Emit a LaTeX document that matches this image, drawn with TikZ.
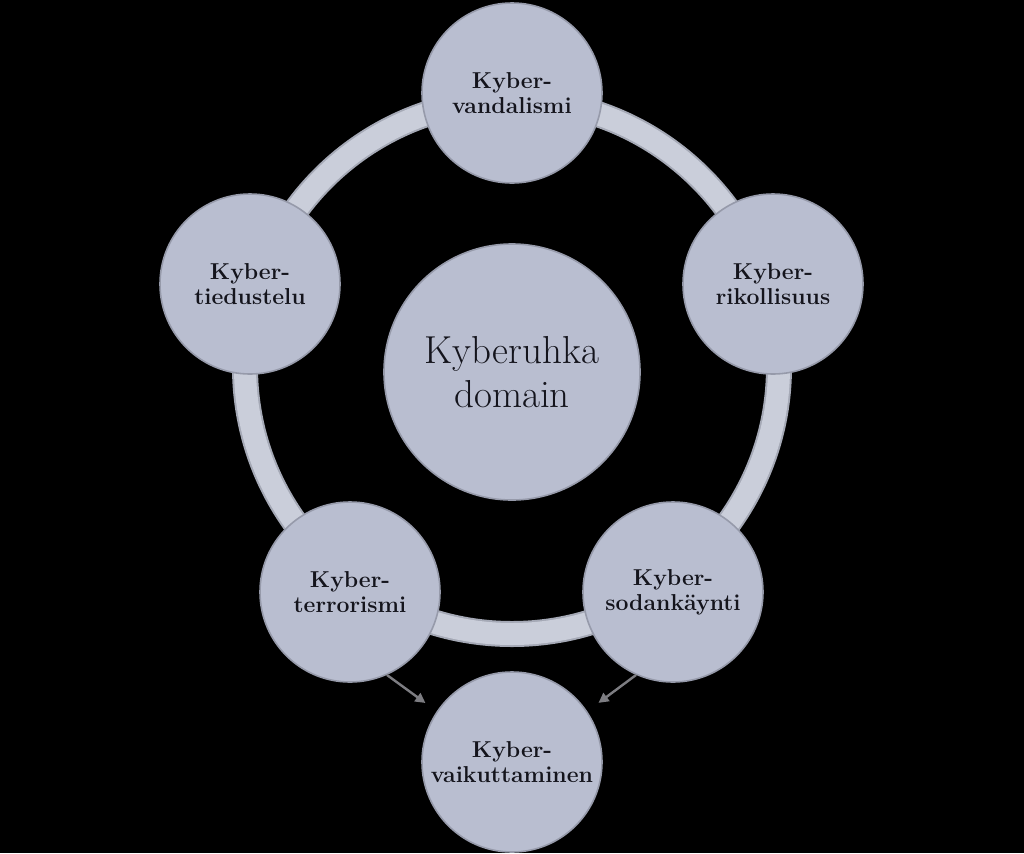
\documentclass[tikz,border=0pt]{standalone}
\usepackage{tikz}
\usetikzlibrary{arrows.meta}
\definecolor{discfill}{RGB}{185,190,208}
\definecolor{discedge}{RGB}{150,154,170}
\definecolor{ringcol}{RGB}{202,206,218}
\definecolor{ringdark}{RGB}{165,169,182}
\definecolor{arrowgray}{RGB}{125,125,130}
\definecolor{inkcol}{RGB}{20,20,28}

\begin{document}
\begin{tikzpicture}[x=0.5pt,y=-0.5pt, every node/.style={font=\fontsize{11.5}{12.5}\selectfont\bfseries,text=inkcol},
  disc/.style={circle,draw=discedge,line width=0.8pt,fill=discfill,minimum size=90pt,inner sep=0pt,align=center},
  arr/.style={-{Triangle[length=5pt,width=5pt]},draw=arrowgray,line width=1.2pt}]
  \fill[black] (0,0) rectangle (1024,853);
  % ring behind the discs
  \coordinate (o) at (512,367);
  \draw[ringdark,line width=13pt] (o) circle[radius=267];
  \draw[ringcol,line width=11pt] (o) circle[radius=267];
  \node[disc] (vand) at (512,93) {Kyber-\\vandalismi};
  \node[disc] (tied) at (250,284) {Kyber-\\tiedustelu};
  \node[disc] (rik) at (773,284) {Kyber-\\rikollisuus};
  \node[disc] (terr) at (350,592) {Kyber-\\terrorismi};
  \node[disc] (soda) at (673,592) {Kyber-\\sodankäynti};
  \node[disc] (vaik) at (512,762) {Kyber-\\vaikuttaminen};
  \node[disc,minimum size=128pt,font=\fontsize{19.5}{22}\selectfont] (dom) at (512,372) {Kyberuhka\\domain};
  \draw[arr,shorten >=7pt] (terr.-66) -- (vaik.146);
  \draw[arr,shorten >=7pt] (soda.246) -- (vaik.34);
\end{tikzpicture}
\end{document}
